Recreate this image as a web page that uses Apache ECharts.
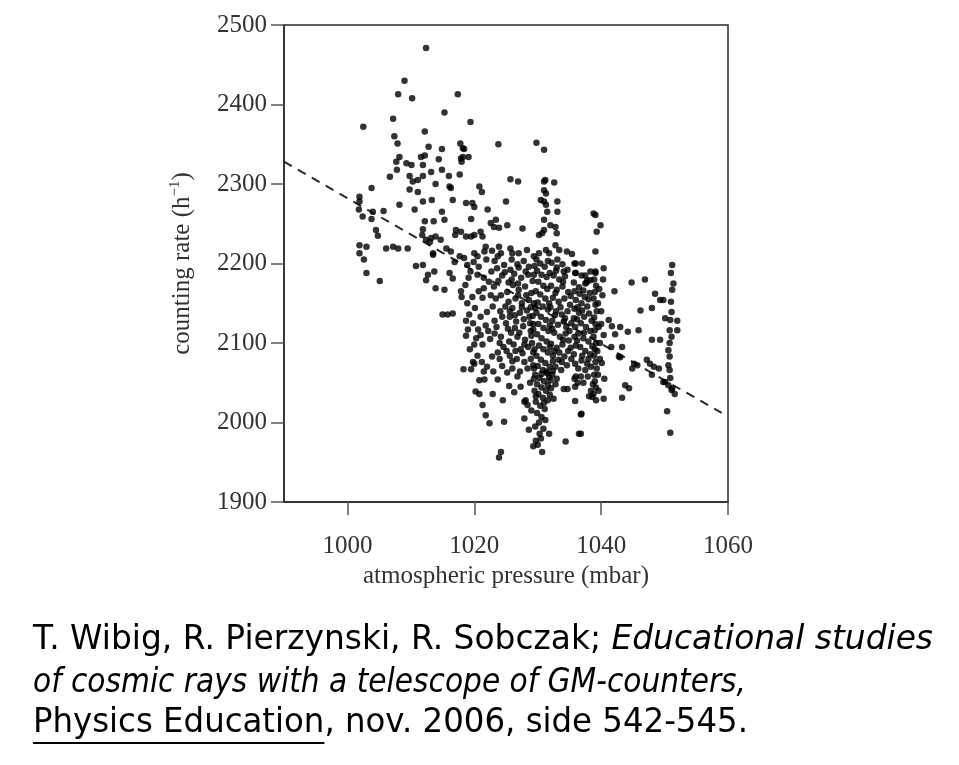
<!DOCTYPE html>
<html>
<head>
<meta charset="utf-8">
<script src="https://cdn.jsdelivr.net/npm/echarts@6/dist/echarts.min.js"></script>
<style>html,body{margin:0;padding:0;background:#fff}#c{width:959px;height:765px}</style>
</head>
<body>
<div id="c"></div>
<script>
// ---- data (pressure in mbar, counting rate in h^-1) ----
const yTicks = [1900, 2000, 2100, 2200, 2300, 2400, 2500];
const xTicks = [1000, 1020, 1040, 1060];
const fitLine = [[990, 2328], [1059, 2012]];

const ptsUpperLeft = [
[1012.4,2471],[1009.0,2430],[1008.0,2413],[1010.2,2408],[1015.3,2390],[1017.4,2413],[1007.2,2382],[1002.5,2372],[1012.2,2366],[1007.4,2360],
[1007.9,2351],[1012.8,2347],[1014.9,2344],[1008.2,2334],[1007.7,2328],[1007.8,2318],[1011.6,2334],[1012.2,2336],[1014.4,2331],[1009.3,2326],
[1010.1,2324],[1011.9,2324],[1013.2,2315],[1014.9,2318],[1016.0,2310],[1006.7,2309],[1009.8,2310],[1010.3,2303],[1011.1,2305],[1011.9,2310],
[1003.8,2295],[1001.9,2284],[1009.8,2293],[1011.1,2290],[1013.9,2300],[1016.1,2297],[1016.6,2280],[1013.3,2280],[1011.9,2278],[1008.2,2274],
[1001.9,2278],[1001.8,2268],[1004.0,2265],[1003.8,2256],[1005.7,2266],[1010.6,2268],[1002.4,2259],[1014.9,2265],[1015.3,2255],[1012.2,2253],
[1013.6,2253],[1004.5,2242],[1004.8,2235],[1011.9,2243],[1011.8,2236],[1017.1,2242],[1017.0,2236],[1012.4,2230],[1013.2,2232],[1013.9,2234],
[1014.7,2230],[1013.0,2227],[1015.6,2219],[1016.3,2215],[1001.9,2223],[1003.0,2221],[1006.1,2219],[1007.2,2221],[1008.0,2219],[1009.5,2219],
[1013.5,2213],[1001.9,2213],[1002.6,2205],[1003.0,2188],[1005.1,2178],[1011.9,2198],[1012.7,2186],[1012.4,2179],[1013.7,2190],[1013.9,2169],
[1015.3,2167],[1016.1,2188],[1016.6,2181],[1013.5,2211],[1015.0,2136],[1015.8,2136],[1016.6,2137],[1017.9,2165],[1018.0,2158],[1018.3,2067],
[1017.8,2351],[1018.2,2345],[1017.9,2332],[1018.0,2328],[1017.7,2312],[1016.9,2202],[1010.8,2197]
];

const ptsUpperMid = [
[1019.4,2378],[1023.8,2350],[1029.8,2352],[1031.0,2343],[1018.4,2344],[1018.2,2334],[1019.1,2334],[1016.3,2295],[1025.7,2306],[1026.9,2303],
[1031.2,2305],[1031.0,2303],[1032.6,2302],[1020.8,2297],[1021.2,2290],[1031.0,2292],[1031.3,2288],[1030.5,2280],[1031.0,2278],[1031.3,2274],
[1033.1,2278],[1018.7,2276],[1019.7,2276],[1020.0,2271],[1022.1,2268],[1025.0,2278],[1031.5,2265],[1033.1,2265],[1019.5,2256],[1022.6,2251],
[1023.1,2246],[1023.4,2255],[1023.9,2245],[1025.2,2248],[1027.6,2244],[1031.0,2255],[1032.0,2248],[1032.8,2246],[1030.2,2236],[1030.7,2238],
[1031.0,2242],[1017.9,2240],[1018.7,2234],[1019.5,2234],[1020.0,2236],[1021.0,2240],[1021.3,2234],[1038.8,2263],[1039.1,2261],[1039.9,2248],
[1039.3,2240],[1039.1,2215],[1032.8,2223],[1033.4,2217],[1031.3,2217],[1031.8,2213],[1030.2,2213],[1029.4,2209],[1028.3,2217],[1025.7,2219],
[1026.0,2213],[1023.9,2221],[1024.2,2213],[1023.7,2209],[1021.8,2221],[1021.6,2215],[1020.0,2213],[1020.5,2209],[1017.7,2209],[1018.4,2207],
[1033.0,2238],[1027.0,2213],[1034.6,2215],[1035.4,2212],[1022.8,2216]
];

const ptsDenseLeft = [
[1018.9,2198],[1019.9,2202],[1020.7,2196],[1019.4,2190],[1020.5,2186],[1021.5,2182],[1022.3,2177],[1023.1,2171],[1021.5,2169],[1020.7,2165],
[1019.7,2158],[1018.9,2150],[1022.6,2160],[1023.4,2156],[1024.2,2160],[1025.2,2164],[1024.4,2185],[1023.6,2194],[1024.7,2198],[1025.7,2192],
[1019.2,2136],[1020.1,2144],[1021.0,2133],[1022.0,2139],[1023.2,2128],[1024.4,2133],[1025.0,2125],[1021.8,2122],[1020.6,2117],[1019.8,2125],
[1019.0,2117],[1020.3,2106],[1021.3,2098],[1022.5,2105],[1023.2,2112],[1024.2,2108],[1020.5,2084],[1021.2,2076],[1022.8,2083],[1023.7,2088],
[1024.6,2095],[1019.8,2076],[1019.3,2092],[1018.7,2109],[1022.0,2070],[1024.4,2071],[1018.6,2173],[1019.1,2182],[1021.9,2205],[1023.2,2203],
[1025.4,2176],[1024.9,2146],[1025.6,2140],[1020.0,2098],[1018.7,2128]
];

const ptsDenseMid = [
[1025.9,2205],[1026.8,2199],[1027.8,2203],[1028.6,2196],[1026.3,2187],[1027.4,2182],[1028.5,2186],[1029.2,2178],[1026.1,2173],[1027.0,2167],
[1028.0,2171],[1029.0,2163],[1026.5,2156],[1027.5,2150],[1028.6,2154],[1026.0,2144],[1027.2,2138],[1028.3,2141],[1029.2,2134],[1026.6,2127],
[1027.7,2121],[1028.8,2125],[1029.3,2117],[1025.8,2113],[1026.8,2108],[1028.0,2104],[1029.0,2109],[1026.2,2098],[1027.3,2092],[1028.5,2095],
[1029.3,2088],[1025.6,2084],[1026.7,2080],[1027.9,2076],[1028.9,2080],[1026.0,2068],[1027.2,2064],[1028.4,2068],[1029.3,2072],[1025.4,2152],
[1025.6,2133],[1025.5,2102],[1027.0,2195],[1028.9,2145],[1027.8,2130],[1026.4,2119],[1029.1,2100],[1027.6,2087],[1026.9,2160],[1028.2,2160]
];

const ptsColumn1030 = [
[1029.8,2205],[1030.4,2200],[1031.1,2196],[1031.6,2203],[1029.9,2191],[1030.6,2186],[1031.4,2183],[1030.1,2177],[1030.9,2172],[1031.5,2168],
[1029.7,2165],[1030.4,2161],[1031.2,2156],[1030.0,2151],[1030.8,2146],[1031.6,2142],[1029.8,2138],[1030.5,2133],[1031.3,2129],[1030.1,2124],
[1030.9,2119],[1031.7,2115],[1029.9,2111],[1030.6,2106],[1031.4,2102],[1030.2,2097],[1030.9,2092],[1031.6,2088],[1029.8,2084],[1030.5,2079],
[1031.2,2075],[1030.0,2071],[1030.8,2066],[1031.5,2062],[1029.6,2060],[1030.3,2056],[1031.0,2052],[1031.8,2057],[1032.3,2060],[1029.9,2048],
[1030.6,2044],[1031.3,2040],[1030.1,2036],[1030.8,2031],[1029.7,2026],[1030.4,2021],[1031.1,2017],[1029.9,2012],[1030.6,2007],[1030.2,2000],
[1029.6,1995],[1030.9,1992],[1030.3,1986],[1031.6,2047],[1032.0,2053],[1029.4,2055],[1032.4,2065],[1032.1,2043],[1031.9,2035],[1029.5,2040],
[1030.6,2061],[1031.4,2064],[1032.8,2048],[1029.7,2033],[1031.6,2028]
];

const ptsDenseRight = [
[1032.2,2201],[1033.0,2195],[1033.9,2199],[1034.7,2192],[1032.5,2185],[1033.4,2180],[1034.3,2184],[1032.1,2172],[1033.0,2167],[1033.9,2171],
[1034.8,2164],[1032.4,2157],[1033.3,2152],[1034.2,2156],[1032.0,2145],[1032.9,2140],[1033.8,2136],[1034.7,2140],[1032.3,2128],[1033.2,2123],
[1034.1,2127],[1032.6,2113],[1033.5,2108],[1034.4,2112],[1032.1,2099],[1033.0,2094],[1033.9,2098],[1034.8,2090],[1032.4,2084],[1033.3,2079],
[1034.2,2083],[1032.8,2070],[1033.7,2066],[1034.6,2072],[1033.1,2205],[1034.5,2120],[1033.6,2145],[1032.7,2135],[1034.9,2103],[1033.4,2088]
];

const ptsBlock1038 = [
[1035.8,2200],[1035.9,2188],[1035.7,2176],[1035.8,2165],[1036.0,2154],[1035.8,2143],[1035.7,2131],[1035.9,2120],[1035.8,2108],[1036.0,2097],
[1035.7,2086],[1035.9,2074],[1036.0,2058],[1035.9,2045],[1039.1,2188],[1038.9,2180],[1039.2,2172],[1039.0,2164],[1038.8,2156],[1039.1,2148],
[1039.3,2140],[1038.9,2132],[1039.1,2124],[1039.0,2116],[1038.8,2108],[1039.2,2100],[1039.0,2092],[1038.9,2084],[1039.1,2076],[1039.3,2068],
[1038.9,2060],[1039.0,2052],[1039.2,2044],[1038.8,2036],[1039.5,2150],[1039.6,2120],[1039.4,2090],[1039.5,2060],[1038.4,2040],[1036.6,2162],
[1037.4,2158],[1038.2,2163],[1036.9,2150],[1037.8,2146],[1036.5,2138],[1037.3,2133],[1038.1,2137],[1036.8,2125],[1037.6,2120],[1038.3,2115],
[1036.4,2112],[1037.2,2106],[1038.0,2102],[1036.7,2095],[1037.5,2090],[1038.3,2086],[1036.9,2078],[1037.8,2074],[1036.5,2170],[1037.7,2176],
[1038.3,2190],[1037.0,2200],[1037.5,2185],[1040.3,2180],[1040.0,2140],[1040.4,2110],[1040.1,2075],[1038.7,2048],[1037.2,2050],[1038.1,2033],
[1039.2,2028],[1036.0,2188],[1036.0,2200],[1037.5,2175],[1038.3,2179],[1040.4,2194],[1034.1,2190],[1039.1,2190],[1037.8,2179]
];

const ptsDenseExtra = [
[1025.3,2118],[1026.4,2135],[1027.5,2145],[1028.7,2133],[1029.4,2150],[1026.9,2175],[1028.1,2190],[1029.5,2197],[1025.9,2180],[1024.8,2189],
[1023.8,2178],[1022.7,2190],[1021.3,2157],[1022.9,2146],[1024.1,2140],[1023.5,2120],[1022.2,2115],[1021.0,2110],[1024.0,2100],[1025.1,2090],
[1026.5,2090],[1027.9,2098],[1028.9,2115],[1027.1,2113],[1026.0,2077],[1025.2,2063],[1024.0,2080],[1023.0,2064],[1021.5,2064],[1019.5,2067],
[1032.9,2191],[1034.0,2177],[1032.8,2163],[1035.2,2159],[1035.1,2148],[1034.3,2131],[1035.3,2125],[1032.3,2118],[1035.0,2115],[1034.0,2104],
[1032.6,2090],[1035.2,2094],[1033.8,2076],[1035.3,2080],[1032.4,2077],[1036.9,2185],[1037.2,2166],[1038.0,2155],[1036.3,2145],[1037.0,2141],
[1038.5,2128],[1036.2,2130],[1037.3,2113],[1038.6,2096],[1036.2,2103],[1037.0,2084],[1038.0,2080],[1036.4,2068],[1037.5,2066],[1038.4,2070],
[1036.8,2058],[1037.9,2058],[1036.3,2050],[1039.7,2168],[1039.8,2100],[1039.8,2080],[1039.6,2040],[1040.2,2160],[1040.0,2124],[1040.5,2055],
[1031.9,2188],[1031.8,2150],[1031.9,2122],[1031.9,2095],[1031.9,2070],[1029.3,2124],[1029.5,2092],[1029.4,2068],[1029.6,2144],[1029.4,2186]
];

const ptsLower = [
[1020.0,2074],[1020.8,2053],[1021.6,2054],[1023.7,2054],[1020.2,2039],[1020.8,2036],[1022.9,2036],[1021.3,2022],[1024.5,2028],[1021.8,2009],
[1022.4,1999],[1024.7,2001],[1024.2,1963],[1023.9,1956],[1030.7,1963],[1028.6,1991],[1029.7,1977],[1030.5,1980],[1031.8,1986],[1034.4,1976],
[1036.5,1986],[1036.9,2011],[1035.9,2027],[1038.6,2032],[1027.9,2005],[1026.8,2058],[1027.9,2026],[1028.4,2022],[1034.1,2042],[1034.7,2042],
[1040.4,2030],[1043.3,2031],[1043.8,2047],[1044.4,2043],[1029.0,2015],[1031.2,2003],[1029.3,1970],[1030.0,1972],[1031.0,2025],[1032.5,2030],
[1027.3,2045],[1028.8,2050],[1025.5,2046],[1026.3,2038],[1033.0,2055],[1028.1,2028],[1035.8,2055]
];

const ptsRight = [
[1051.2,2198],[1051.0,2188],[1051.4,2175],[1051.2,2167],[1051.0,2152],[1051.1,2139],[1050.9,2129],[1050.8,2116],[1051.1,2108],[1050.8,2100],
[1050.6,2091],[1050.8,2083],[1050.6,2072],[1050.8,2066],[1050.9,2056],[1050.6,2047],[1051.1,2041],[1051.6,2036],[1052.0,2116],[1052.0,2128],
[1050.4,2014],[1050.9,1987],[1046.9,2180],[1044.8,2176],[1048.5,2162],[1049.3,2154],[1049.8,2154],[1048.0,2144],[1046.2,2141],[1050.1,2131],
[1048.0,2104],[1049.3,2104],[1045.9,2116],[1044.2,2114],[1043.0,2120],[1042.1,2165],[1041.2,2129],[1041.7,2121],[1041.6,2095],[1043.3,2095],
[1042.8,2083],[1045.2,2074],[1044.9,2068],[1047.2,2079],[1047.7,2074],[1048.3,2070],[1049.1,2068],[1048.0,2060],[1049.8,2051],[1042.2,2111],
[1043.0,2082],[1045.7,2072],[1050.1,2051],[1051.2,2043],[1036.8,2010],[1036.8,1986]
];

const captionLine1a = 'T. Wibig, R. Pierzynski, R. Sobczak; ';
const captionLine1b = 'Educational studies';
const captionLine2 = 'of cosmic rays with a telescope of GM-counters,';
const captionLine3a = 'Physics Education';
const captionLine3b = ', nov. 2006, side 542-545.';

// ---- chart ----
const allPoints = [].concat(ptsUpperLeft, ptsUpperMid, ptsDenseLeft, ptsDenseMid,
  ptsColumn1030, ptsDenseRight, ptsBlock1038, ptsDenseExtra, ptsLower, ptsRight);

const serif = "'Liberation Serif', 'Times New Roman', serif";
const capFont = "'DejaVu Sans', sans-serif";
const capSize = 34;

function textWidth(str, size, family, style) {
  const c = document.createElement('canvas').getContext('2d');
  c.font = (style || 'normal') + ' ' + size + 'px ' + family;
  return c.measureText(str).width;
}
// horizontal scale so each caption line spans the same width as in the reference
const w1 = textWidth(captionLine1a, capSize, capFont) + textWidth(captionLine1b, capSize, capFont, 'italic');
const w2 = textWidth(captionLine2, capSize, capFont, 'italic');
const w3a = textWidth(captionLine3a, capSize, capFont);
const w3 = w3a + textWidth(captionLine3b, capSize, capFont);
const s1 = 900 / w1, s2 = 713 / w2, s3 = 715 / w3;

const axisFmt = v => String(v);

const chart = echarts.init(document.getElementById('c'), null, {renderer: 'canvas'});
chart.setOption({
  backgroundColor: '#fff',
  animation: false,
  grid: {left: 284, top: 25, right: 231, bottom: 263, show: true, borderColor: '#2a2a2a', borderWidth: 1.5, outerBoundsMode: 'none'},
  xAxis: {
    type: 'value', min: 990, max: 1060,
    name: 'atmospheric pressure (mbar)', nameLocation: 'middle', nameGap: 51,
    nameTextStyle: {fontFamily: serif, fontSize: 25, color: '#333'},
    axisLine: {show: true, onZero: false, lineStyle: {color: '#2a2a2a', width: 1.5}},
    axisTick: {show: true, length: 13, customValues: xTicks, lineStyle: {color: '#555', width: 1.5}},
    axisLabel: {customValues: xTicks, margin: 32, fontFamily: serif, fontSize: 25, color: '#333', formatter: axisFmt},
    splitLine: {show: false}
  },
  yAxis: {
    type: 'value', min: yTicks[0], max: yTicks[yTicks.length - 1], interval: 100,
    name: '{a|counting rate (h}{s|−1}{a|)}', nameLocation: 'middle', nameGap: 88, nameRotate: 90,
    nameTextStyle: {fontFamily: serif, fontSize: 25, color: '#333',
      rich: {a: {fontFamily: serif, fontSize: 25, color: '#333', lineHeight: 28},
             s: {fontFamily: serif, fontSize: 15, color: '#333', verticalAlign: 'top', lineHeight: 28}}},
    axisLine: {show: true, onZero: false, lineStyle: {color: '#2a2a2a', width: 1.5}},
    axisTick: {show: true, length: 13, lineStyle: {color: '#555', width: 1.5}},
    axisLabel: {margin: 17, fontFamily: serif, fontSize: 25, color: '#333', formatter: axisFmt},
    splitLine: {show: false}
  },
  series: [
    {type: 'scatter', data: allPoints, symbol: 'circle', symbolSize: 6.5,
     itemStyle: {color: '#000'}, z: 3},
    {type: 'line', data: fitLine, showSymbol: false, symbol: 'none',
     lineStyle: {color: '#2a2a2a', width: 2, type: [9, 7]}, z: 2}
  ],
  graphic: [
    {type: 'text', x: 33, y: 640, scaleX: s1, style: {
      text: '{n|' + captionLine1a + '}{i|' + captionLine1b + '}',
      fill: '#000', fontFamily: capFont, fontSize: capSize, verticalAlign: 'middle', align: 'left',
      rich: {n: {fontFamily: capFont, fontSize: capSize, fill: '#000'},
             i: {fontFamily: capFont, fontSize: capSize, fontStyle: 'italic', fill: '#000'}}}},
    {type: 'text', x: 33, y: 683, scaleX: s2, style: {
      text: captionLine2, fill: '#000', fontFamily: capFont, fontSize: capSize, fontStyle: 'italic',
      verticalAlign: 'middle', align: 'left'}},
    {type: 'text', x: 33, y: 723, scaleX: s3, style: {
      text: captionLine3a + captionLine3b, fill: '#000', fontFamily: capFont, fontSize: capSize,
      verticalAlign: 'middle', align: 'left'}},
    {type: 'line', shape: {x1: 33, y1: 743, x2: 33 + w3a * s3, y2: 743},
     style: {stroke: '#000', lineWidth: 2}}
  ]
});
</script>
</body>
</html>
